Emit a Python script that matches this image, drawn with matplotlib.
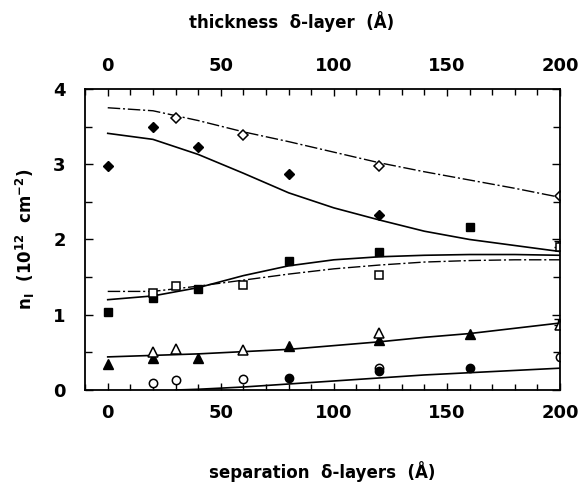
import matplotlib
matplotlib.use('Agg')
import matplotlib.pyplot as plt
from matplotlib.ticker import MultipleLocator

plt.rcParams['font.family'] = ['DejaVu Sans']
plt.rcParams['font.weight'] = 'bold'
plt.rcParams['mathtext.default'] = 'bf'

# measured points
x_open_dia = [30, 60, 120, 200]
y_open_dia = [3.61, 3.39, 2.97, 2.58]
x_fill_dia = [0, 20, 40, 80, 120]
y_fill_dia = [2.97, 3.49, 3.23, 2.87, 2.32]

x_fill_sq = [0, 20, 40, 80, 120, 160]
y_fill_sq = [1.03, 1.22, 1.34, 1.71, 1.83, 2.17]
x_open_sq = [20, 30, 60, 120, 200]
y_open_sq = [1.29, 1.38, 1.40, 1.53, 1.90]

x_fill_tri = [0, 20, 40, 80, 120, 160]
y_fill_tri = [0.35, 0.42, 0.43, 0.58, 0.66, 0.74]
x_open_tri = [20, 30, 60, 120, 200]
y_open_tri = [0.51, 0.54, 0.53, 0.76, 0.86]

x_open_circ = [20, 30, 60, 120, 200]
y_open_circ = [0.09, 0.13, 0.14, 0.29, 0.44]
x_fill_circ = [80, 120, 160]
y_fill_circ = [0.16, 0.25, 0.29]

# error bars on last open points
x_err = [199, 199]
y_err = [1.90, 0.86]
err = [0.08, 0.08]

# calculated curves
x_fit = [0, 20, 40, 60, 80, 100, 120, 140, 160, 180, 200]
dia_dashdot = [3.75, 3.71, 3.58, 3.43, 3.30, 3.16, 3.02, 2.90, 2.79, 2.68, 2.56]
dia_solid = [3.41, 3.33, 3.13, 2.88, 2.62, 2.42, 2.26, 2.11, 2.00, 1.92, 1.84]
sq_solid = [1.20, 1.25, 1.36, 1.52, 1.65, 1.73, 1.77, 1.79, 1.80, 1.80, 1.79]
sq_dashdot = [1.31, 1.31, 1.38, 1.46, 1.54, 1.61, 1.66, 1.70, 1.72, 1.73, 1.73]
tri_solid = [0.44, 0.46, 0.48, 0.51, 0.54, 0.59, 0.64, 0.70, 0.75, 0.82, 0.89]
x_circ_fit = [30, 40, 60, 80, 100, 120, 140, 160, 180, 200]
circ_solid = [0.0, 0.01, 0.04, 0.08, 0.12, 0.16, 0.20, 0.23, 0.26, 0.29]

fig = plt.figure(figsize=(5.83, 4.86), dpi=100)
ax = fig.add_axes([0.146, 0.1975, 0.8145, 0.6195])

dd = (9, 2, 1.5, 2)
ax.plot(x_fit, dia_dashdot, color='black', lw=1, dashes=dd)
ax.plot(x_fit, dia_solid, color='black', lw=1.2)
ax.plot(x_fit, sq_solid, color='black', lw=1.2)
ax.plot(x_fit, sq_dashdot, color='black', lw=1, dashes=dd)
ax.plot(x_fit, tri_solid, color='black', lw=1.2)
ax.plot(x_circ_fit, circ_solid, color='black', lw=1.2)

ax.errorbar(x_err, y_err, yerr=[[0, 0], err], fmt='none', ecolor='black',
            elinewidth=1, capsize=3)

ms = 6
ax.plot(x_open_dia, y_open_dia, 'D', ms=ms - 0.5, mfc='white', mec='black', mew=1.1, ls='none')
ax.plot(x_fill_dia, y_fill_dia, 'D', ms=ms - 0.5, color='black', ls='none')
ax.plot(x_fill_sq, y_fill_sq, 's', ms=ms, color='black', ls='none')
ax.plot(x_open_sq, y_open_sq, 's', ms=ms, mfc='white', mec='black', mew=1.1, ls='none')
ax.plot(x_fill_tri, y_fill_tri, '^', ms=ms + 0.5, color='black', ls='none')
ax.plot(x_open_tri, y_open_tri, '^', ms=ms + 0.5, mfc='white', mec='black', mew=1.1, ls='none')
ax.plot(x_open_circ, y_open_circ, 'o', ms=ms, mfc='white', mec='black', mew=1.1, ls='none')
ax.plot(x_fill_circ, y_fill_circ, 'o', ms=ms, color='black', ls='none')

ax.set_xlim(-10, 200)
ax.set_ylim(0, 4)

ax.xaxis.set_major_locator(MultipleLocator(50))
ax.xaxis.set_minor_locator(MultipleLocator(10))
ax.yaxis.set_major_locator(MultipleLocator(1))
ax.yaxis.set_minor_locator(MultipleLocator(0.5))
ax.tick_params(which='both', direction='in', top=True, right=True,
               labeltop=True, labelsize=13, width=1)
ax.tick_params(axis='x', which='major', length=5, pad=10)
ax.tick_params(axis='x', which='minor', length=4)
ax.tick_params(axis='y', which='major', length=6, pad=14)
ax.tick_params(axis='y', which='minor', length=5)
for lab in ax.get_xticklabels() + ax.get_yticklabels():
    lab.set_fontweight('heavy')
for sp in ax.spines.values():
    sp.set_linewidth(1.3)

ax.set_xlabel('separation  δ-layers  (Å)', fontsize=12, fontweight='heavy', labelpad=28)
ax.set_ylabel(r'n$_{\rm I}$  (10$^{12}$  cm$^{-2}$)', fontsize=12, fontweight='heavy', labelpad=12)
fig.text(0.5, 0.955, 'thickness  δ-layer  (Å)', fontsize=12, fontweight='heavy',
         ha='center', va='center')

fig.savefig('out.png', dpi=100)
